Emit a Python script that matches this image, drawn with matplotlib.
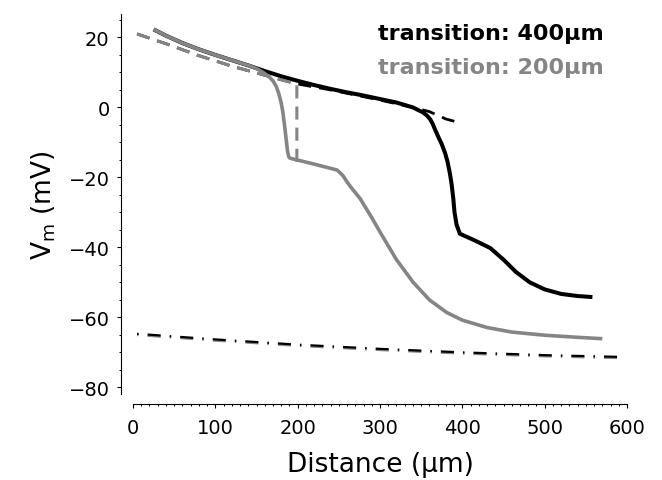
import matplotlib
matplotlib.use("Agg")
import matplotlib.pyplot as plt
from matplotlib.ticker import MultipleLocator
import numpy as np

plt.rcParams['font.family'] = ['DejaVu Sans']
plt.rcParams['lines.scale_dashes'] = False
plt.rcParams['lines.solid_capstyle'] = 'butt'
plt.rcParams['lines.dash_capstyle'] = 'butt'

# Active membrane potential, transition at 400 um
dist_400 = [25, 40, 60, 80, 100, 120, 140, 160, 180, 200, 220, 240, 260, 280,
            300, 320, 340, 352, 357, 361, 364, 367, 371, 375, 379, 382, 385,
            387, 389, 390.5, 393, 397, 415, 434, 450, 465, 482, 500, 520, 540,
            558]
vm_400 = [22.3, 20.5, 18.4, 16.6, 15.0, 13.5, 12.0, 10.4, 8.9, 7.6, 6.4, 5.3,
          4.3, 3.4, 2.4, 1.4, 0.0, -1.4, -2.3, -3.4, -4.7, -6.4, -8.5, -10.5,
          -13.0, -15.5, -19.0, -22.0, -26.0, -30.0, -33.5, -36.1, -38.0,
          -40.2, -43.5, -47.0, -50.0, -52.0, -53.3, -53.9, -54.2]

# Active membrane potential, transition at 200 um
dist_200 = [25, 40, 60, 80, 100, 120, 140, 150, 158, 165, 170, 174, 177, 180,
            182, 184, 186, 187.5, 189, 190.5, 220, 248, 255, 260, 265, 276,
            290, 300, 320, 340, 360, 381, 400, 430, 460, 500, 540, 570]
vm_200 = [22.3, 20.5, 18.4, 16.6, 15.0, 13.5, 12.0, 11.1, 10.0, 8.8, 7.6, 6.0,
          4.0, 1.3, -1.3, -5.0, -9.0, -12.2, -14.0, -14.5, -16.2, -17.9,
          -19.5, -21.3, -22.9, -26.1, -31.5, -35.6, -43.5, -49.9, -55.0,
          -58.6, -60.8, -62.9, -64.2, -65.1, -65.7, -66.1]

# Passive prediction up to the transition point
dist_pas_400 = [5, 40, 80, 120, 140, 160, 180, 200, 240, 300, 340, 360, 380, 394]
vm_pas_400 = [21.0, 18.2, 14.8, 11.8, 10.5, 9.2, 7.9, 6.7, 5.0, 2.1, 0.0,
              -1.2, -3.3, -4.2]
dist_pas_200 = [5, 40, 80, 120, 140, 160, 180, 199, 199]
vm_pas_200 = [21.0, 18.2, 14.8, 11.8, 10.5, 9.2, 7.9, 6.7, -16.2]

# Resting potential along the dendrite
dist_rest = [5, 100, 200, 300, 400, 500, 593]
rest_400 = [-64.7, -66.3, -67.8, -69.0, -70.0, -70.8, -71.3]
rest_200 = [-65.0, -66.6, -68.1, -69.3, -70.3, -71.1, -71.6]

GRAY = '#858585'
dash = (0, (9.4, 5.8))
dashdot = (0, (1.1, 6.5, 9.4, 6.5))

fig = plt.figure(figsize=(6.62, 4.81), dpi=100)
ax = fig.add_axes([133 / 662, 1 - 395 / 481, 494 / 662, 380 / 481])

ax.plot(dist_rest, rest_200, color=GRAY, lw=1.8, linestyle=dashdot)
ax.plot(dist_rest, rest_400, color='black', lw=1.6, linestyle=dashdot)
ax.plot(dist_pas_400, vm_pas_400, color='black', lw=2.0, linestyle=dash)
ax.plot(dist_400, vm_400, color='black', lw=2.9, solid_joinstyle='round')
ax.plot(dist_pas_200, vm_pas_200, color=GRAY, lw=2.2, linestyle=dash)
ax.plot(dist_200, vm_200, color=GRAY, lw=2.6, solid_joinstyle='round')

ax.set_xlim(0, 600)
ax.set_ylim(-81.9, 26.7)

for side in ('top', 'right'):
    ax.spines[side].set_visible(False)
ax.spines['left'].set_position(('outward', 8.6))
ax.spines['bottom'].set_position(('outward', 7.2))
for side in ('left', 'bottom'):
    ax.spines[side].set_linewidth(0.8)

ax.xaxis.set_major_locator(MultipleLocator(100))
ax.xaxis.set_minor_locator(MultipleLocator(10))
ax.yaxis.set_major_locator(MultipleLocator(20))
ax.yaxis.set_minor_locator(MultipleLocator(5))
ax.tick_params(which='major', length=3.2, width=0.8, labelsize=14)
ax.tick_params(which='minor', length=1.6, width=0.7)
ax.tick_params(axis='x', which='major', pad=7)
ax.tick_params(axis='y', which='major', pad=5)

ax.set_xlabel('Distance (μm)', fontsize=19, labelpad=10)
ax.set_ylabel('V$_\\mathrm{m}$ (mV)', fontsize=19, labelpad=8)

fig.text(604 / 662, 1 - 40 / 481, 'transition: 400μm', ha='right',
         va='baseline', fontsize=16, fontweight='bold', color='black')
fig.text(604 / 662, 1 - 74 / 481, 'transition: 200μm', ha='right',
         va='baseline', fontsize=16, fontweight='bold', color=GRAY)

fig.savefig('out.png', dpi=100)
